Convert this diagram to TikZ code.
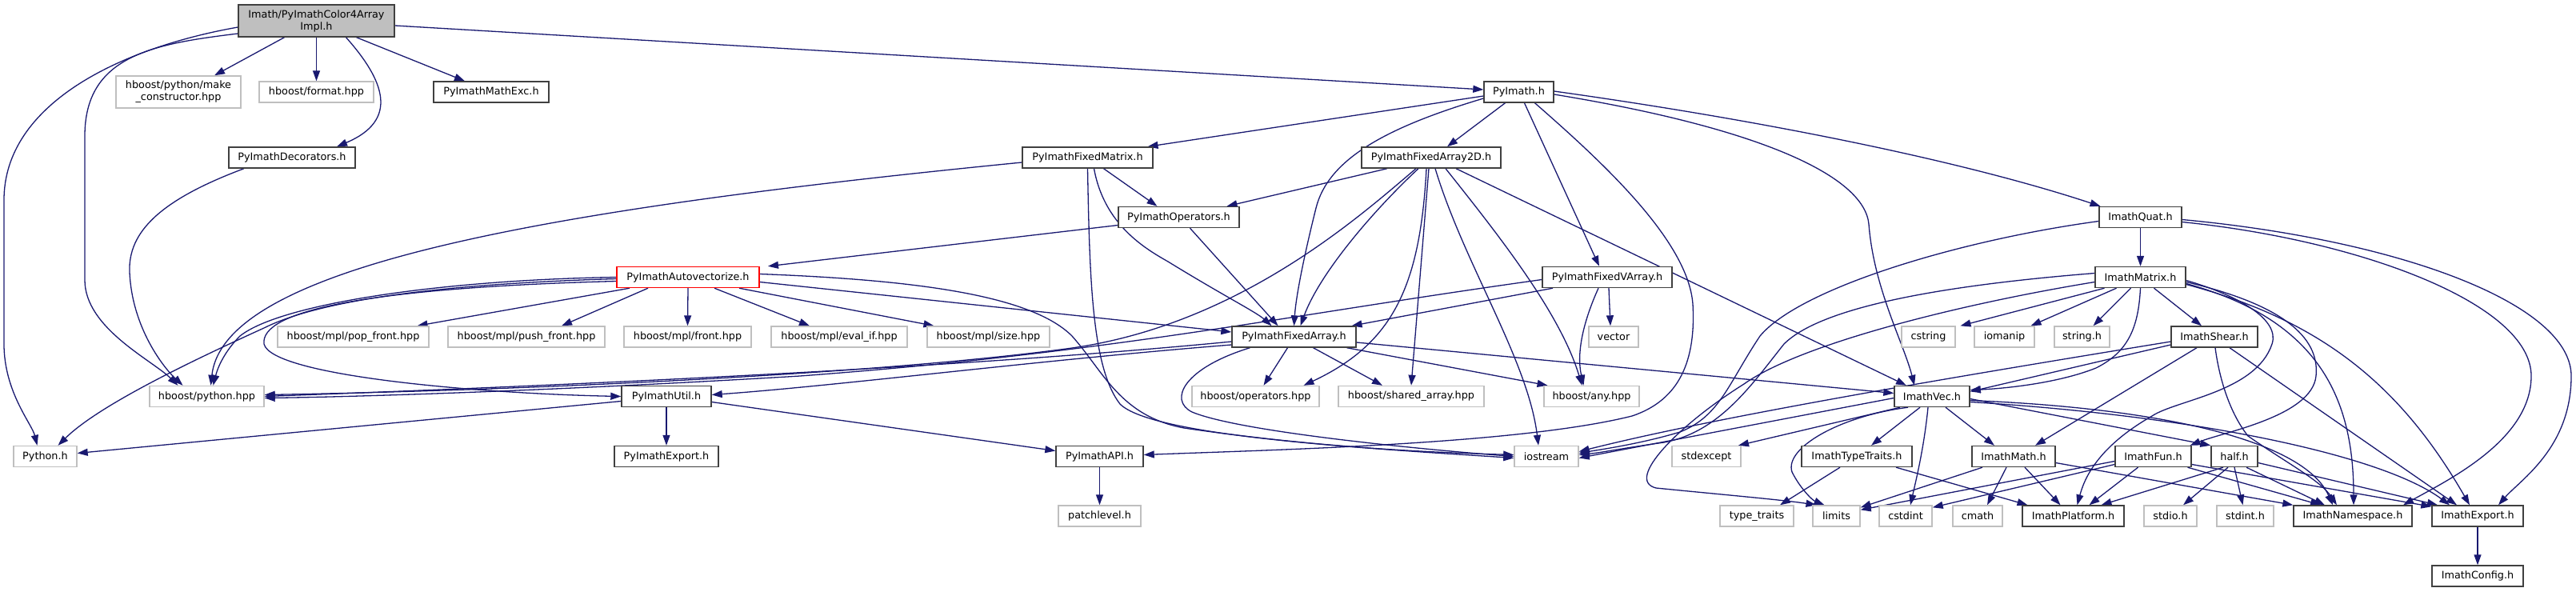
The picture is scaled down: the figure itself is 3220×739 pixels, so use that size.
\documentclass[tikz,border=0pt]{standalone}
\usepackage{fontspec}
\setmainfont{DejaVu Sans}
\usetikzlibrary{arrows.meta}
\definecolor{mb}{HTML}{191970}
\definecolor{extgray}{HTML}{BFBFBF}
\definecolor{rootgray}{HTML}{BFBFBF}
\definecolor{bord}{HTML}{404040}
\pgfdeclarelayer{bg}
\pgfsetlayers{bg,main}
\newcommand\mybox[6]{\node[#1, minimum width=#4pt, minimum height=#5pt] (#2) at (#3) {#6};}
\begin{document}
\begin{tikzpicture}[x=1pt,y=-1pt,
 base/.style={inner sep=0pt, line width=1.4pt, fill=white, font=\fontsize{12.8}{15}\selectfont, align=center},
 nd/.style={base, draw=bord},
 ext/.style={base, draw=extgray},
 root/.style={base, draw=bord, fill=rootgray},
 hl/.style={base, draw=red},
 dep/.style={draw=mb, line width=1.3pt, -{Triangle[length=13pt,width=9pt]}},
]
\useasboundingbox (0,0) rectangle (3220,739);
% row 0-1
\mybox{root}{top}{395.5,26}{195}{40}{Imath/PyImathColor4Array\\Impl.h}
\mybox{ext}{mkc}{223,115}{156}{40}{hboost/python/make\\\_constructor.hpp}
\mybox{ext}{fmt}{395.5,115}{143}{26}{hboost/format.hpp}
\mybox{nd}{mexc}{614,115}{144}{26}{PyImathMathExc.h}
\mybox{nd}{pyimath}{1898.5,115}{87}{26}{PyImath.h}
% row 2
\mybox{nd}{deco}{365,197}{158}{26}{PyImathDecorators.h}
\mybox{nd}{fmat}{1359.5,197}{163}{26}{PyImathFixedMatrix.h}
\mybox{nd}{fatwod}{1789,197}{174}{26}{PyImathFixedArray2D.h}
% row 3
\mybox{nd}{ops}{1473.5,271.5}{151}{26}{PyImathOperators.h}
\mybox{nd}{quat}{2675.5,271.5}{103}{26}{ImathQuat.h}
% row 4
\mybox{hl}{autov}{860,346.5}{178}{26}{PyImathAutovectorize.h}
\mybox{nd}{fva}{2009,346.5}{162}{26}{PyImathFixedVArray.h}
\mybox{nd}{mat}{2675.5,346.5}{113}{26}{ImathMatrix.h}
% row 5
\mybox{ext}{popf}{441.5,421}{189}{26}{hboost/mpl/pop\_front.hpp}
\mybox{ext}{pushf}{658,421}{196}{26}{hboost/mpl/push\_front.hpp}
\mybox{ext}{front}{859.5,421}{159}{26}{hboost/mpl/front.hpp}
\mybox{ext}{evalif}{1049,421}{170}{26}{hboost/mpl/eval\_if.hpp}
\mybox{ext}{sizeh}{1235.5,421}{153}{26}{hboost/mpl/size.hpp}
\mybox{nd}{fa}{1617.5,421}{155}{26}{PyImathFixedArray.h}
\mybox{ext}{vector}{2017,421}{62}{26}{vector}
\mybox{ext}{cstring}{2410.5,421}{67}{26}{cstring}
\mybox{ext}{iomanip}{2505.5,421}{75}{26}{iomanip}
\mybox{ext}{stringh}{2602.5,421}{69}{26}{string.h}
\mybox{nd}{shear}{2768,421}{108}{26}{ImathShear.h}
% row 6
\mybox{ext}{pyhpp}{258.5,495.5}{143}{26}{hboost/python.hpp}
\mybox{nd}{util}{833,495.5}{112}{26}{PyImathUtil.h}
\mybox{ext}{opshpp}{1569.5,495.5}{159}{26}{hboost/operators.hpp}
\mybox{ext}{shared}{1764,495.5}{182}{26}{hboost/shared\_array.hpp}
\mybox{ext}{any}{1989.5,495.5}{119}{26}{hboost/any.hpp}
\mybox{nd}{vec}{2415,495.5}{94}{26}{ImathVec.h}
% row 7
\mybox{ext}{pyh}{56.5,570.5}{79}{26}{Python.h}
\mybox{nd}{pexp}{833,570.5}{130}{26}{PyImathExport.h}
\mybox{nd}{api}{1374.5,570.5}{109}{26}{PyImathAPI.h}
\mybox{ext}{iostream}{1933,570.5}{80}{26}{iostream}
\mybox{ext}{stdexcept}{2133,570.5}{86}{26}{stdexcept}
\mybox{nd}{tt}{2321,570.5}{138}{26}{ImathTypeTraits.h}
\mybox{nd}{imath}{2517,570.5}{104}{26}{ImathMath.h}
\mybox{nd}{fun}{2691.5,570.5}{95}{26}{ImathFun.h}
\mybox{nd}{half}{2793,570.5}{58}{26}{half.h}
% row 8
\mybox{ext}{patch}{1374.5,645}{103}{26}{patchlevel.h}
\mybox{ext}{typetr}{2196,645}{92}{26}{type\_traits}
\mybox{ext}{limits}{2295.5,645}{59}{26}{limits}
\mybox{ext}{cstdint}{2382,645}{66}{26}{cstdint}
\mybox{ext}{cmath}{2472,645}{62}{26}{cmath}
\mybox{nd}{plat}{2591.5,645}{127}{26}{ImathPlatform.h}
\mybox{ext}{stdio}{2713,645}{66}{26}{stdio.h}
\mybox{ext}{stdint}{2806.5,645}{71}{26}{stdint.h}
\mybox{nd}{ns}{2941,645}{148}{26}{ImathNamespace.h}
\mybox{nd}{exp}{3097,645}{114}{26}{ImathExport.h}
% row 9
\mybox{nd}{config}{3097,720}{114}{26}{ImathConfig.h}

\begin{pgfonlayer}{bg}
% root
\draw[dep] ([yshift=-8]top.west) .. controls (150,60) and (5,130) .. (5,250) -- (5,430) .. controls (5,490) and (40,530) .. ([xshift=-10]pyh.north);
\draw[dep] ([yshift=-16]top.west) .. controls (190,55) and (106,70) .. (106,170) -- (106,350) .. controls (106,410) and (190,450) .. ([xshift=-36]pyhpp.north);
\draw[dep] ([xshift=-40]top.south) -- ([xshift=45]mkc.north);
\draw[dep] (top.south) -- (fmt.north);
\draw[dep] ([xshift=37]top.south) .. controls (480,100) and (500,150) .. ([xshift=56]deco.north);
\draw[dep] ([xshift=50]top.south) -- ([xshift=-33]mexc.north);
\draw[dep] ([yshift=-6]top.east) -- ([yshift=3]pyimath.west);
% decorators
\draw[dep] ([xshift=-60]deco.south) .. controls (200,250) and (160,290) .. (162,340) .. controls (165,410) and (205,460) .. ([xshift=-30]pyhpp.north);
% PyImath.h
\draw[dep] ([yshift=-5]pyimath.west) -- ([xshift=75]fmat.north);
\draw[dep] ([xshift=-17]pyimath.south) -- ([xshift=20]fatwod.north);
\draw[dep] ([yshift=-8]pyimath.west) .. controls (1730,160) and (1660,200) .. (1645,260) .. controls (1630,320) and (1620,370) .. (fa.north);
\draw[dep] ([xshift=7]pyimath.south) -- ([xshift=-10]fva.north);
\draw[dep] ([xshift=20]pyimath.south) .. controls (2000,200) and (2110,300) .. (2116,380) .. controls (2120,450) and (2100,500) .. (2040,520) .. controls (1900,555) and (1600,562) .. ([yshift=2]api.east);
\draw[dep] ([yshift=-3]pyimath.east) .. controls (2200,160) and (2330,220) .. (2336,280) .. controls (2342,360) and (2380,430) .. ([xshift=-22]vec.north);
\draw[dep] ([yshift=1]pyimath.east) .. controls (2200,150) and (2450,200) .. ([xshift=-50]quat.north);
% FixedMatrix
\draw[dep] ([yshift=-6]fmat.west) .. controls (700,260) and (280,330) .. ([xshift=5]pyhpp.north);
\draw[dep] ([xshift=20]fmat.south) -- ([xshift=-27]ops.north);
\draw[dep] ([xshift=8]fmat.south) .. controls (1380,280) and (1430,310) .. (1460,327) .. controls (1530,370) and (1570,390) .. ([xshift=-28]fa.north);
\draw[dep] (fmat.south) .. controls (1362,350) and (1365,460) .. (1400,505) .. controls (1440,545) and (1700,560) .. ([yshift=-2]iostream.west);
% FixedArray2D
\draw[dep] ([xshift=-55]fatwod.south) -- ([xshift=60]ops.north);
\draw[dep] ([xshift=-19]fatwod.south) .. controls (1700,270) and (1550,405) .. (1340,435) .. controls (1100,468) and (650,488) .. ([yshift=2]pyhpp.east);
\draw[dep] ([xshift=-16]fatwod.south) .. controls (1720,260) and (1650,340) .. ([xshift=8]fa.north);
\draw[dep] ([xshift=-6]fatwod.south) .. controls (1775,360) and (1740,430) .. ([xshift=60]opshpp.north);
\draw[dep] ([xshift=-3]fatwod.south) -- (shared.north);
\draw[dep] ([xshift=5]fatwod.south) .. controls (1830,330) and (1910,450) .. ([xshift=-10]iostream.north);
\draw[dep] ([xshift=18]fatwod.south) .. controls (1870,290) and (1950,390) .. ([xshift=-12]any.north);
\draw[dep] ([xshift=31]fatwod.south) -- ([xshift=-32]vec.north);
% Operators
\draw[dep] ([yshift=-10]ops.west) -- ([xshift=100]autov.north);
\draw[dep] ([xshift=14]ops.south) -- ([xshift=-20]fa.north);
% Autovectorize
\draw[dep] ([yshift=-2]autov.west) .. controls (550,355) and (400,375) .. (330,410) .. controls (220,460) and (120,510) .. ([xshift=16]pyh.north);
\draw[dep] (autov.west) .. controls (550,350) and (350,380) .. (300,420) .. controls (280,440) and (272,460) .. ([xshift=8]pyhpp.north);
\draw[dep] ([yshift=-5]autov.west) .. controls (450,360) and (325,390) .. (330,430) .. controls (340,470) and (600,492) .. (util.west);
\draw[dep] ([xshift=-73]autov.south) -- ([xshift=80]popf.north);
\draw[dep] ([xshift=-50]autov.south) -- ([xshift=44]pushf.north);
\draw[dep] (autov.south) -- (front.north);
\draw[dep] ([xshift=33]autov.south) -- ([xshift=-37]evalif.north);
\draw[dep] ([xshift=64]autov.south) -- ([xshift=-68]sizeh.north);
\draw[dep] ([yshift=-6]autov.east) -- ([yshift=6]fa.west);
\draw[dep] ([yshift=4]autov.east) .. controls (1150,350) and (1290,370) .. (1340,420) .. controls (1380,465) and (1400,520) .. (1480,535) .. controls (1650,560) and (1800,566) .. ([yshift=2]iostream.west);
% FixedArray
\draw[dep] ([yshift=-6]fa.west) .. controls (1200,460) and (700,482) .. (pyhpp.east);
\draw[dep] ([yshift=-10]fa.west) .. controls (1300,450) and (1050,482) .. ([yshift=2]util.east);
\draw[dep] ([xshift=-8]fa.south) -- ([xshift=10]opshpp.north);
\draw[dep] ([xshift=24]fa.south) -- ([xshift=-36]shared.north);
\draw[dep] ([xshift=66]fa.south) -- ([xshift=-55]any.north);
\draw[dep] ([yshift=-7]fa.east) -- ([yshift=4]vec.west);
\draw[dep] ([xshift=-55]fa.south) .. controls (1480,460) and (1460,500) .. (1490,515) .. controls (1550,540) and (1780,562) .. (iostream.west);
% FixedVArray
\draw[dep] ([yshift=-3]fva.west) .. controls (1600,395) and (1400,440) .. (1000,470) .. controls (700,488) and (450,496) .. ([yshift=-2]pyhpp.east);
\draw[dep] ([xshift=-68]fva.south) -- ([xshift=72]fa.north);
\draw[dep] ([xshift=-11]fva.south) .. controls (1980,400) and (1970,440) .. ([xshift=-10]any.north);
\draw[dep] ([xshift=2]fva.south) -- ([xshift=-4]vector.north);
% Util, API
\draw[dep] ([yshift=-6]util.west) -- ([yshift=4]pyh.east);
\draw[dep] (util.south) -- (pexp.north);
\draw[dep] ([yshift=-7]util.east) -- ([yshift=7]api.west);
\draw[dep] (api.south) -- (patch.north);
% Quat
\draw[dep] (quat.south) -- (mat.north);
\draw[dep] ([yshift=-5]quat.west) .. controls (2450,300) and (2250,360) .. (2200,420) .. controls (2160,480) and (2150,520) .. (2100,540) .. controls (2050,555) and (2000,562) .. ([yshift=4]iostream.east);
\draw[dep] ([yshift=-6]quat.east) .. controls (2950,300) and (3164,380) .. (3164,470) .. controls (3164,550) and (3060,600) .. ([xshift=63]ns.north);
\draw[dep] ([yshift=-3]quat.east) .. controls (3000,300) and (3214,380) .. (3214,470) .. controls (3214,560) and (3150,600) .. ([xshift=26]exp.north);
% Matrix
\draw[dep] ([yshift=5]mat.west) .. controls (2450,355) and (2280,380) .. (2230,430) .. controls (2190,480) and (2150,540) .. (2080,553) .. controls (2030,560) and (2000,566) .. ([yshift=2]iostream.east);
\draw[dep] ([yshift=-6]mat.west) .. controls (2450,380) and (2250,430) .. (2180,480) .. controls (2100,530) and (2030,600) .. (2070,610) .. controls (2150,618) and (2230,625) .. ([xshift=-25]limits.north);
\draw[dep] ([xshift=-45]mat.south) -- ([xshift=40]cstring.north);
\draw[dep] ([xshift=-30]mat.south) -- ([xshift=33]iomanip.north);
\draw[dep] ([xshift=-12]mat.south) -- ([xshift=14]stringh.north);
\draw[dep] (mat.south) .. controls (2673,410) and (2660,440) .. (2620,460) .. controls (2570,480) and (2500,486) .. ([yshift=8]vec.east);
\draw[dep] ([xshift=17]mat.south) -- ([xshift=-16]shear.north);
\draw[dep] ([yshift=-4]mat.east) .. controls (2800,370) and (2850,400) .. (2840,430) .. controls (2820,490) and (2720,500) .. (2690,520) .. controls (2620,560) and (2605,600) .. ([xshift=5]plat.north);
\draw[dep] ([yshift=-6]mat.east) .. controls (2850,380) and (2900,420) .. (2895,470) .. controls (2890,520) and (2780,540) .. ([xshift=46]fun.north);
\draw[dep] ([yshift=-8]mat.east) .. controls (2900,400) and (2942,500) .. ([xshift=1]ns.north);
\draw[dep] ([yshift=-9]mat.east) .. controls (2900,400) and (3000,480) .. ([xshift=-10]exp.north);
% Shear
\draw[dep] ([yshift=-6]shear.west) .. controls (2450,470) and (2150,520) .. ([yshift=6]iostream.east);
\draw[dep] ([yshift=-10]shear.west) -- ([yshift=6]vec.east);
\draw[dep] ([xshift=-22]shear.south) -- ([xshift=27]imath.north);
\draw[dep] ([xshift=1]shear.south) .. controls (2775,480) and (2790,520) .. (2810,545) .. controls (2860,580) and (2900,600) .. ([xshift=-20]ns.north);
\draw[dep] ([xshift=19]shear.south) -- ([xshift=-26]exp.north);
% Vec
\draw[dep] ([yshift=-2]vec.west) -- ([yshift=-2]iostream.east);
\draw[dep] ([xshift=-40]vec.south) -- ([xshift=40]stdexcept.north);
\draw[dep] ([xshift=-30]vec.south) .. controls (2300,520) and (2230,560) .. (2240,590) .. controls (2250,610) and (2265,625) .. ([xshift=-15]limits.north);
\draw[dep] ([xshift=-15]vec.south) -- ([xshift=18]tt.north);
\draw[dep] ([xshift=-5]vec.south) .. controls (2405,560) and (2395,600) .. ([xshift=6]cstdint.north);
\draw[dep] ([xshift=17]vec.south) -- ([xshift=-24]imath.north);
\draw[dep] ([yshift=-3]vec.east) -- (half.north west);
\draw[dep] ([yshift=-5]vec.east) .. controls (2700,510) and (2880,550) .. ([xshift=-25]ns.north);
\draw[dep] ([yshift=-7]vec.east) .. controls (2750,520) and (2980,570) .. ([xshift=-35]exp.north);
% TypeTraits, Math, Fun, half
\draw[dep] ([xshift=-21]tt.south) -- ([xshift=29]typetr.north);
\draw[dep] ([xshift=49]tt.south) -- ([xshift=-57]plat.north);
\draw[dep] ([xshift=-39]imath.south) -- ([yshift=-3]limits.north east);
\draw[dep] ([xshift=-9]imath.south) -- ([xshift=12]cmath.north);
\draw[dep] ([xshift=14]imath.south) -- ([xshift=-16]plat.north);
\draw[dep] ([yshift=-8]imath.east) -- (ns.north west);
\draw[dep] ([yshift=-6]fun.west) -- ([yshift=-6]limits.north east);
\draw[dep] ([yshift=-10]fun.west) -- ([yshift=-3]cstdint.north east);
\draw[dep] ([xshift=-19]fun.south) -- ([xshift=20]plat.north);
\draw[dep] ([xshift=43]fun.south) -- ([xshift=-40]ns.north);
\draw[dep] ([yshift=-10]fun.east) -- ([yshift=-2]exp.north west);
\draw[dep] ([xshift=-14]half.south) -- ([xshift=35]plat.north);
\draw[dep] ([xshift=-8]half.south) -- ([xshift=16]stdio.north);
\draw[dep] (half.south) -- ([xshift=-3]stdint.north);
\draw[dep] ([xshift=15]half.south) -- ([xshift=-35]ns.north);
\draw[dep] ([yshift=-8]half.east) -- ([xshift=-50]exp.north);
\draw[dep] (exp.south) -- (config.north);
\end{pgfonlayer}
\end{tikzpicture}
\end{document}
